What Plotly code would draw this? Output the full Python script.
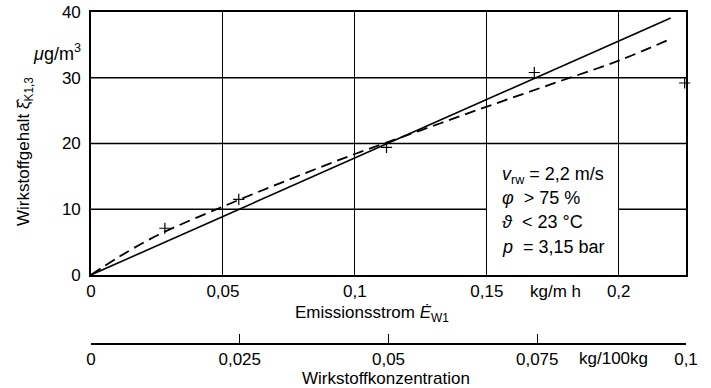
import plotly.graph_objects as go

# ---- data ----
solid_x = [0.0, 0.2197]
solid_y = [0.0, 39.1]

dashed_x = [0.0, 0.01, 0.025, 0.05, 0.075, 0.1, 0.125, 0.15, 0.175, 0.2, 0.219]
dashed_y = [0.0, 2.6, 6.0, 10.4, 14.5, 18.4, 22.0, 25.6, 29.1, 32.6, 35.8]

meas_x = [0.028, 0.056, 0.112, 0.168, 0.225]
meas_y = [7.1, 11.5, 19.4, 30.8, 29.2]

x_ticks = [0, 0.05, 0.1, 0.15, 0.2]
x_ticktext = ["0", "0,05", "0,1", "0,15", "0,2"]
y_ticks = [0, 10, 20, 30, 40]
conc_ticks = [0, 0.025, 0.05, 0.075, 0.1]
conc_ticktext = ["0", "0,025", "0,05", "0,075", "0,1"]

FONT = "Liberation Sans"
FS = 17

fig = go.Figure()

fig.add_trace(go.Scatter(x=solid_x, y=solid_y, mode="lines",
                         line=dict(color="black", width=1.6),
                         showlegend=False, hoverinfo="skip"))
fig.add_trace(go.Scatter(x=dashed_x, y=dashed_y, mode="lines",
                         line=dict(color="black", width=1.8, dash="11px,6px", shape="spline"),
                         showlegend=False, hoverinfo="skip"))
fig.add_trace(go.Scatter(x=meas_x, y=meas_y, mode="markers",
                         marker=dict(symbol="cross-thin", size=8,
                                     line=dict(color="black", width=1.2)),
                         cliponaxis=False, showlegend=False, hoverinfo="skip"))
# invisible trace to carry the second x axis
fig.add_trace(go.Scatter(x=[conc_ticks[0], conc_ticks[-1]], y=[None, None],
                         xaxis="x2", yaxis="y", mode="markers",
                         showlegend=False, hoverinfo="skip"))

# horizontal grid lines (10-line interrupted behind the condition box)
GW = 1.4
shapes = []
for yv in [20, 30]:
    shapes.append(dict(type="line", xref="x", yref="y", x0=0, x1=0.2255, y0=yv, y1=yv,
                       line=dict(color="black", width=GW), layer="below"))
shapes.append(dict(type="line", xref="x", yref="y", x0=0, x1=0.15, y0=10, y1=10,
                   line=dict(color="black", width=GW), layer="below"))
shapes.append(dict(type="line", xref="x", yref="y", x0=0.2, x1=0.2255, y0=10, y1=10,
                   line=dict(color="black", width=GW), layer="below"))

annotations = [
    # y axis title
    dict(xref="paper", yref="y", x=0, y=18.7, xshift=-66, xanchor="center",
         yanchor="middle", textangle=-90,
         text="Wirkstoffgehalt ξ̂<sub>K1,3</sub>", showarrow=False,
         font=dict(size=17)),
    # y unit
    dict(xref="paper", yref="y", x=0, y=33.8, xshift=-8, xanchor="right",
         yanchor="middle", text="<i>μ</i>g/m<sup>3</sup>", showarrow=False,
         font=dict(size=18)),
    # x unit
    dict(xref="x", yref="paper", x=0.176, y=0.157, xanchor="center",
         yanchor="middle", text="kg/m h", showarrow=False, font=dict(size=FS)),
    # x title
    dict(xref="x", yref="paper", x=0.1064, y=0.09, xanchor="center",
         yanchor="middle", text="Emissionsstrom <i>Ė</i><sub>W1</sub>",
         showarrow=False, font=dict(size=FS)),
    # concentration unit
    dict(xref="x2", yref="paper", x=0.0878, y=0, yshift=-14, xanchor="center",
         yanchor="middle", text="kg/100kg", showarrow=False, font=dict(size=FS)),
    # concentration title
    dict(xref="paper", yref="paper", x=0.495, y=0, yshift=-34, xanchor="center",
         yanchor="middle", text="Wirkstoffkonzentration", showarrow=False,
         font=dict(size=FS)),
]
cond_lines = ["<i>v</i><sub>rw</sub> = 2,2 m/s",
              "<i>φ</i>  > 75 %",
              "<i>ϑ</i>  < 23 °C",
              "<i>p</i>  = 3,15 bar"]
cond_y = [15.2, 11.7, 8.0, 4.2]
for t, yv in zip(cond_lines, cond_y):
    annotations.append(dict(xref="x", yref="y", x=0.155, y=yv, xanchor="left",
                            yanchor="middle", text=t, showarrow=False,
                            font=dict(size=18)))

fig.update_layout(
    template="none",
    width=711, height=388,
    margin=dict(l=91, r=25, t=12, b=44, autoexpand=False),
    paper_bgcolor="white", plot_bgcolor="white",
    font=dict(family=FONT, size=FS, color="black"),
    showlegend=False,
    shapes=shapes,
    annotations=annotations,
    xaxis=dict(range=[0, 0.2255], tickvals=x_ticks, ticktext=x_ticktext,
               showgrid=True, gridcolor="black", gridwidth=1.2,
               showline=True, linecolor="black", linewidth=1.6, mirror=True,
               zeroline=False, ticks="", anchor="y", automargin=False),
    yaxis=dict(range=[0, 40], domain=[0.208, 1], tickvals=y_ticks,
               showgrid=False, showline=True, linecolor="black", linewidth=1.6,
               mirror=True, zeroline=False, ticks="", automargin=False,
               ticklabelstandoff=5),
    xaxis2=dict(range=[0, 0.1], overlaying="x", anchor="free", position=0,
                side="bottom", tickvals=conc_ticks, ticktext=conc_ticktext,
                showgrid=False, zeroline=False, showline=True, linecolor="black",
                linewidth=1.6, ticks="inside", ticklen=9, tickwidth=1.4,
                tickcolor="black", automargin=False),
)

fig.write_html("out.html", config={"displayModeBar": False},
               post_script="document.body.style.margin='0';document.body.style.overflow='hidden';")
